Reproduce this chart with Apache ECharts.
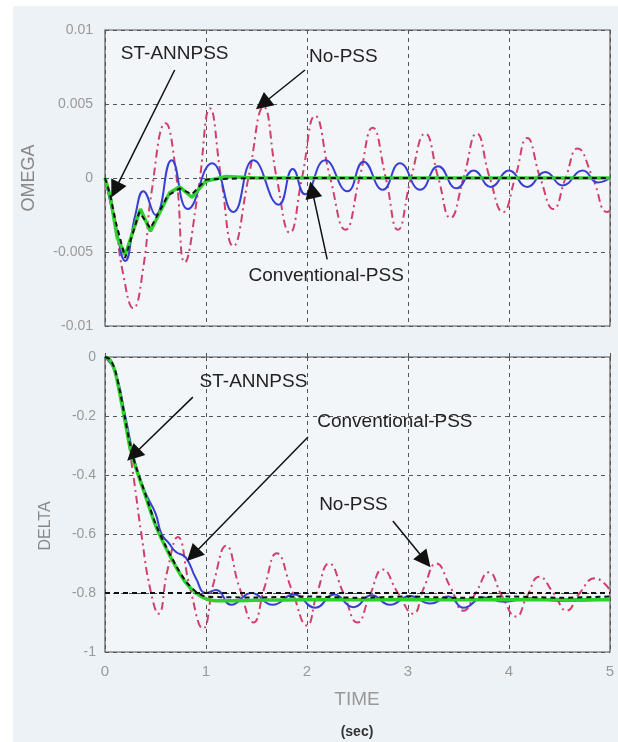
<!DOCTYPE html>
<html>
<head>
<meta charset="utf-8">
<script src="https://cdn.jsdelivr.net/npm/echarts@6/dist/echarts.min.js"></script>
<style>
html,body{margin:0;padding:0;background:#fff;}
#chart{width:618px;height:742px;}
</style>
</head>
<body>
<div id="chart"></div>
<script>
// time axis ticks (sec)
const timeTicks = [0, 1, 2, 3, 4, 5];

// OMEGA (top plot) - [time, value]
const omegaNoPss = [[0,0],[0.08,-0.002],[0.18,-0.0065],[0.28,-0.0088],[0.38,-0.006],[0.46,-0.001],[0.6,0.0037],[0.7,0.0005],
  [0.79,-0.0057],[0.92,-0.001],[1.04,0.0047],[1.15,0],[1.27,-0.0046],[1.42,0],[1.57,0.0048],[1.7,0],[1.83,-0.0037],[1.95,0],
  [2.08,0.0042],[2.23,0],[2.38,-0.0035],[2.52,0],[2.65,0.0034],[2.78,0],[2.9,-0.0035],[3.03,0],[3.17,0.003],[3.3,0],
  [3.42,-0.0027],[3.55,0],[3.68,0.003],[3.81,0],[3.94,-0.0023],[4.06,0],[4.18,0.0027],[4.31,0],[4.44,-0.0021],[4.56,0],
  [4.68,0.002],[4.83,0],[4.97,-0.0023],[5,-0.0022]];
const omegaConv = [[0,0],[0.1,-0.003],[0.2,-0.0056],[0.3,-0.0025],[0.38,-0.0009],[0.5,-0.0025],[0.66,0.0012],[0.82,-0.0021],
  [1.06,0.001],[1.27,-0.0023],[1.47,0.0012],[1.72,-0.0018],[1.86,0.0006],[1.98,-0.0011],[2.18,0.0012],[2.4,-0.0009],
  [2.56,0.0011],[2.75,-0.0008],[2.92,0.001],[3.12,-0.0008],[3.3,0.0008],[3.48,-0.0007],[3.65,0.0005],[3.82,-0.0006],
  [4.0,0.0005],[4.18,-0.0006],[4.36,0.0004],[4.53,-0.0005],[4.73,0.0005],[4.88,-0.0003],[5,0]];
const omegaGreen = [[0,0],[0.05,-0.0012],[0.12,-0.004],[0.2,-0.0052],[0.35,-0.0021],[0.45,-0.0036],[0.64,-0.001],
  [0.74,-0.0006],[0.86,-0.0013],[1.0,-0.0002],[1.2,0.0001],[1.5,0],[2,0],[3,0],[4,0],[5,0]];
const omegaStAnn = [[0,0],[0.05,-0.0011],[0.1,-0.0028],[0.2,-0.0054],[0.34,-0.0023],[0.45,-0.0034],[0.62,-0.0012],
  [0.74,-0.0007],[0.86,-0.0011],[1.0,-0.0001],[1.5,0],[2,0],[3,0],[4,0],[5,0]];

// DELTA (bottom plot) - [time, value]
const deltaNoPss = [[0,0],[0.1,-0.05],[0.2,-0.22],[0.28,-0.4],[0.36,-0.6],[0.45,-0.79],[0.53,-0.87],[0.62,-0.72],[0.72,-0.61],
  [0.84,-0.78],[0.97,-0.92],[1.08,-0.76],[1.2,-0.64],[1.33,-0.78],[1.47,-0.9],[1.58,-0.78],[1.7,-0.665],[1.85,-0.79],
  [2.0,-0.91],[2.1,-0.8],[2.22,-0.7],[2.36,-0.8],[2.5,-0.9],[2.62,-0.81],[2.75,-0.72],[2.9,-0.8],[3.05,-0.87],[3.16,-0.78],
  [3.28,-0.7],[3.42,-0.78],[3.55,-0.86],[3.67,-0.8],[3.8,-0.73],[3.93,-0.81],[4.07,-0.88],[4.18,-0.81],[4.3,-0.745],
  [4.44,-0.8],[4.57,-0.86],[4.7,-0.8],[4.85,-0.75],[5,-0.79]];
const deltaConv = [[0,0],[0.1,-0.05],[0.2,-0.2],[0.3,-0.36],[0.4,-0.46],[0.5,-0.53],[0.56,-0.6],[0.63,-0.63],[0.7,-0.66],
  [0.8,-0.68],[0.9,-0.75],[1.0,-0.8],[1.1,-0.79],[1.25,-0.84],[1.45,-0.8],[1.66,-0.84],[1.87,-0.805],[2.08,-0.85],
  [2.27,-0.805],[2.46,-0.848],[2.64,-0.808],[2.82,-0.84],[3.02,-0.81],[3.22,-0.836],[3.4,-0.812],[3.55,-0.85],
  [3.75,-0.815],[3.95,-0.83],[4.2,-0.818],[4.5,-0.826],[5,-0.822]];
const deltaGreen = [[0,0],[0.05,-0.01],[0.1,-0.05],[0.15,-0.13],[0.2,-0.22],[0.25,-0.31],[0.3,-0.37],[0.4,-0.47],
  [0.5,-0.57],[0.6,-0.645],[0.7,-0.71],[0.8,-0.765],[0.9,-0.8],[1.0,-0.82],[1.1,-0.826],[1.3,-0.826],[1.6,-0.824],
  [2,-0.823],[3,-0.823],[4,-0.823],[5,-0.823]];
const deltaStAnn = [[0,0],[0.05,-0.008],[0.1,-0.045],[0.15,-0.12],[0.2,-0.21],[0.25,-0.3],[0.3,-0.365],[0.4,-0.465],
  [0.5,-0.565],[0.6,-0.64],[0.7,-0.705],[0.8,-0.76],[0.9,-0.795],[1.0,-0.812],[1.5,-0.815],[2,-0.812],[2.5,-0.816],
  [3,-0.812],[3.5,-0.816],[4,-0.812],[4.5,-0.816],[5,-0.812]];
const deltaSteady = -0.8;

// annotation labels [text, time, value] and arrows [[from],[to]]
const omegaNotes = [['ST-ANNPSS', 0.69, 0.0084], ['No-PSS', 2.36, 0.0082], ['Conventional-PSS', 2.19, -0.0066]];
const omegaArrows = [[[0.69, 0.0073], [0.1, -0.0008]], [[1.98, 0.0073], [1.56, 0.005]], [[2.2, -0.0055], [2.05, -0.0008]]];
const deltaNotes = [['ST-ANNPSS', 1.47, -0.085], ['Conventional-PSS', 2.87, -0.22], ['No-PSS', 2.46, -0.5]];
const deltaArrows = [[[0.87, -0.136], [0.28, -0.332]], [[2.01, -0.271], [0.87, -0.671]], [[2.85, -0.556], [3.17, -0.69]]];

const FONT = 'Liberation Sans, Arial, sans-serif';
const gridLine = {show: true, lineStyle: {color: '#555', type: [4, 4], width: 1}};
const tickStyle = {show: true, inside: true, length: 4, lineStyle: {color: '#555'}};

const chart = echarts.init(document.getElementById('chart'), null, {renderer: 'canvas'});

function xAxisFor(gi, labels) {
  return {
    gridIndex: gi, type: 'value', min: 0, max: 5, interval: 1,
    axisLine: {show: false},
    axisTick: tickStyle,
    axisLabel: {show: labels, margin: 12, color: '#999', fontSize: 15, fontFamily: FONT,
      formatter: v => String(timeTicks[Math.round(v)])},
    splitLine: gridLine
  };
}

function noteSeries(xi, notes, arrows) {
  return {
    type: 'line', xAxisIndex: xi, yAxisIndex: xi, data: [], silent: true, z: 10,
    itemStyle: {color: '#111'},
    markPoint: {
      symbol: 'circle', symbolSize: 1, itemStyle: {color: 'transparent'},
      label: {show: true, position: 'inside', color: '#222', fontSize: 19, fontFamily: FONT,
        formatter: p => p.name},
      data: notes.map(n => ({name: n[0], coord: [n[1], n[2]]}))
    },
    markLine: {
      symbol: ['none', 'triangle'], symbolSize: 17, label: {show: false},
      itemStyle: {color: '#111'},
      lineStyle: {color: '#111', type: 'solid', width: 1.5},
      data: arrows.map(a => [{coord: a[0]}, {coord: a[1]}])
    }
  };
}

const redStyle = {color: '#d0406a', width: 2, type: [8, 4, 2, 4]};
const blueStyle = {color: '#3a3fd4', width: 2};
const greenStyle = {color: '#2fd02f', width: 3.5};
const blackStyle = {color: '#111', width: 2, type: [5, 4]};

chart.setOption({
  animation: false,
  backgroundColor: '#ffffff',
  graphic: [
    {type: 'rect', left: 13, top: 6, shape: {width: 605, height: 736}, style: {fill: '#edf2f6'}, z: -10},
    {type: 'text', x: 29, y: 178, rotation: Math.PI / 2,
      style: {text: 'OMEGA', fill: '#888', font: '18px ' + FONT, textAlign: 'center', textVerticalAlign: 'middle'}},
    {type: 'text', x: 46, y: 526, rotation: Math.PI / 2,
      style: {text: 'DELTA', fill: '#888', font: '16px ' + FONT, textAlign: 'center', textVerticalAlign: 'middle'}},
    {type: 'text', x: 357, y: 700,
      style: {text: 'TIME', fill: '#999', font: '19px ' + FONT, textAlign: 'center', textVerticalAlign: 'middle'}},
    {type: 'text', x: 357, y: 732,
      style: {text: '(sec)', fill: '#333', font: 'bold 14px ' + FONT, textAlign: 'center', textVerticalAlign: 'middle'}}
  ],
  grid: [
    {left: 105, top: 30, width: 505, height: 296, show: true, borderColor: '#555', borderWidth: 1.2, backgroundColor: '#f3f6f9'},
    {left: 105, top: 357, width: 505, height: 295, show: true, borderColor: '#555', borderWidth: 1.2, backgroundColor: '#f3f6f9'}
  ],
  xAxis: [xAxisFor(0, false), xAxisFor(1, true)],
  yAxis: [
    {gridIndex: 0, type: 'value', min: -0.01, max: 0.01, interval: 0.005,
      axisLine: {show: false},
      axisTick: tickStyle,
      axisLabel: {margin: 12, color: '#999', fontSize: 14, fontFamily: FONT,
        formatter: v => String(Math.round(v * 1000) / 1000)},
      splitLine: gridLine},
    {gridIndex: 1, type: 'value', min: -1, max: 0, interval: 0.2,
      axisLine: {show: false},
      axisTick: tickStyle,
      axisLabel: {margin: 9, color: '#999', fontSize: 14, fontFamily: FONT,
        formatter: v => String(Math.round(v * 10) / 10)},
      splitLine: gridLine}
  ],
  series: [
    {name: 'No-PSS', type: 'line', xAxisIndex: 0, yAxisIndex: 0, data: omegaNoPss, smooth: 0.5, showSymbol: false, lineStyle: redStyle, z: 2},
    {name: 'Conventional-PSS', type: 'line', xAxisIndex: 0, yAxisIndex: 0, data: omegaConv, smooth: 0.5, showSymbol: false, lineStyle: blueStyle, z: 3},
    {name: 'Reference', type: 'line', xAxisIndex: 0, yAxisIndex: 0, data: omegaGreen, showSymbol: false, lineStyle: greenStyle, z: 4},
    {name: 'ST-ANNPSS', type: 'line', xAxisIndex: 0, yAxisIndex: 0, data: omegaStAnn, showSymbol: false, lineStyle: blackStyle, z: 5},

    {name: 'No-PSS', type: 'line', xAxisIndex: 1, yAxisIndex: 1, data: deltaNoPss, smooth: 0.5, showSymbol: false, lineStyle: redStyle, z: 2},
    {name: 'Conventional-PSS', type: 'line', xAxisIndex: 1, yAxisIndex: 1, data: deltaConv, smooth: 0.5, showSymbol: false, lineStyle: blueStyle, z: 3},
    {name: 'Reference', type: 'line', xAxisIndex: 1, yAxisIndex: 1, data: deltaGreen, smooth: 0.3, showSymbol: false, lineStyle: greenStyle, z: 4},
    {name: 'ST-ANNPSS', type: 'line', xAxisIndex: 1, yAxisIndex: 1, data: deltaStAnn, smooth: 0.3, showSymbol: false, lineStyle: blackStyle, z: 5,
      markLine: {symbol: 'none', silent: true, label: {show: false},
        lineStyle: {color: '#111', type: [5, 4], width: 2},
        data: [{yAxis: deltaSteady}]}},

    noteSeries(0, omegaNotes, omegaArrows),
    noteSeries(1, deltaNotes, deltaArrows)
  ]
});
</script>
</body>
</html>
